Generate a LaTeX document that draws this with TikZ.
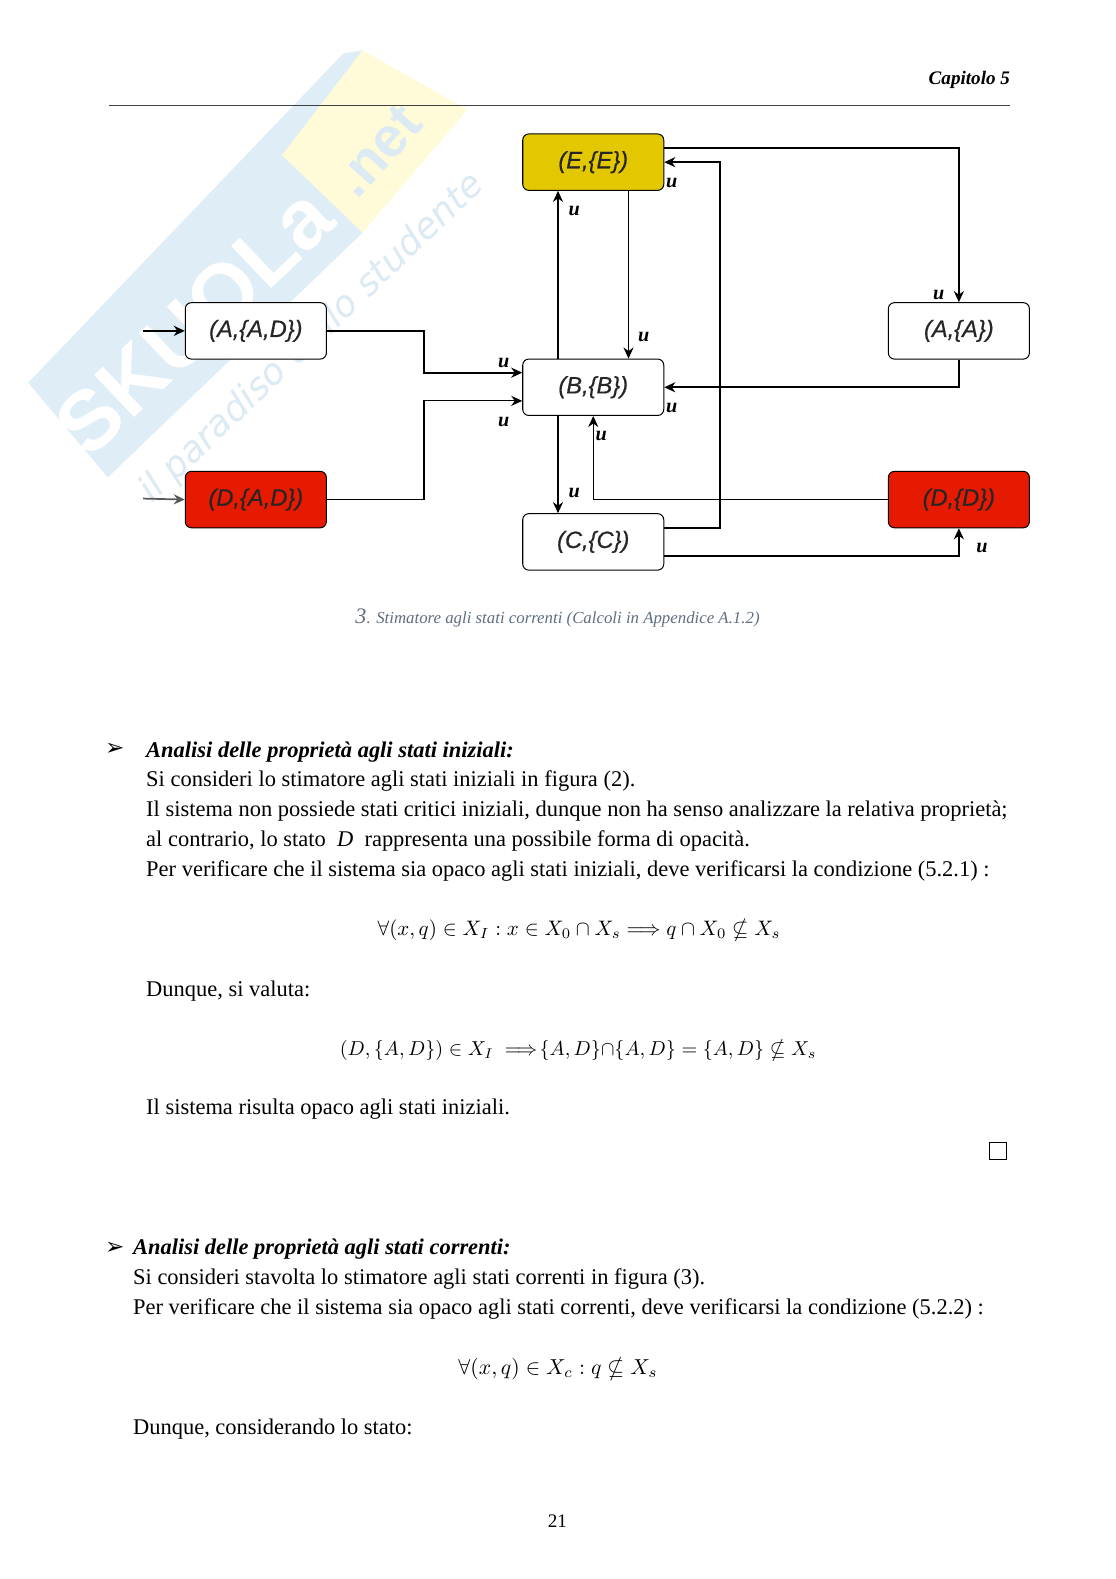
\documentclass[tikz,border=0pt]{standalone}
\usepackage{amsmath,amssymb}
\usepackage[no-math]{fontspec}
\setmainfont{Liberation Serif}
\newfontfamily\boxfont[ItalicFeatures={FakeBold=0.5}]{Liberation Sans}
\newfontfamily\wmfont{Liberation Sans}
\newfontfamily\markfont{DejaVu Sans}
\usetikzlibrary{arrows.meta,calc}
\definecolor{wmblue}{HTML}{DFEDF6}
\definecolor{wmyellow}{HTML}{FFFBD9}
\definecolor{wmtext}{HTML}{DCEAF4}
\definecolor{stateyellow}{HTML}{E3C800}
\definecolor{statered}{HTML}{E61A00}
\definecolor{capgray}{HTML}{5F6F80}
\newcommand{\stlab}[1]{\raisebox{-2.5pt}{#1}}
\tikzset{
  x=1pt,y=-1pt,
  statebox/.style={draw=black,line width=1pt,rounded corners=6pt,minimum width=140pt,minimum height=56pt,inner sep=0pt,font=\boxfont\itshape\fontsize{23.5}{26}\selectfont,text=black!85},
  thickc/.style={line width=1.7pt,-{Stealth[length=11pt,width=10pt]}},
  thinc/.style={line width=1.1pt,-{Stealth[length=11pt,width=10pt]}},
  edgelab/.style={inner sep=0pt,font=\bfseries\itshape\fontsize{20}{22}\selectfont},
  body/.style={anchor=base west,inner sep=0pt,font=\fontsize{22.3}{30}\selectfont,text=black},
  bodyhead/.style={body,font=\bfseries\itshape\fontsize{22.3}{30}\selectfont},
  formula/.style={inner sep=0pt},
  bulletmark/.style={inner sep=0pt,font=\markfont\fontsize{23}{26}\selectfont},
}
\begin{document}
\begin{tikzpicture}
\useasboundingbox (0,0) rectangle (1108,1567.7);
\fill[white] (0,0) rectangle (1108,1567.7);
% watermark
\fill[wmblue] (341,53) -- (360,50) -- (360,231) -- (107,474) -- (28,380) -- cycle;
\fill[wmyellow] (360,50) -- (464,109) -- (360,231) -- (280,154) -- cycle;
\node[rotate=43.5,inner sep=0pt,text=white,font=\wmfont\bfseries\fontsize{84}{90}\selectfont] (wmskuola) at (193,319) {SKUOLa};
\node[rotate=48,inner sep=0pt,text=wmtext,font=\wmfont\bfseries\fontsize{56}{60}\selectfont] (wmnet) at (375,150) {.net};
\node[rotate=43.5,inner sep=0pt,text=wmtext,font=\markfont\itshape\fontsize{36}{40}\selectfont] (wmtag) at (310,336) {il paradiso dello studente};
% header
\node[anchor=base east,inner sep=0pt,font=\bfseries\itshape\fontsize{19}{22}\selectfont] (hdr) at (1003,84) {Capitolo 5};
\coordinate (ruleL) at (108,105);
\coordinate (ruleR) at (1003,105);
\draw[line width=1.3pt,black!75] (ruleL) -- (ruleR);
% states
\node[statebox,fill=stateyellow] (E) at (589,161) {\stlab{(E,\{E\})}};
\node[statebox,fill=white] (AAD) at (254,328.5) {\stlab{(A,\{A,D\})}};
\node[statebox,fill=white] (B) at (589,384.5) {\stlab{(B,\{B\})}};
\node[statebox,fill=white] (AA) at (952,328.5) {\stlab{(A,\{A\})}};
\node[statebox,fill=statered] (DAD) at (254,496) {\stlab{(D,\{A,D\})}};
\node[statebox,fill=statered] (DD) at (952,496) {\stlab{(D,\{D\})}};
\node[statebox,fill=white] (C) at (589,538) {\stlab{(C,\{C\})}};
\coordinate (s1) at (142,328.5);
\coordinate (s2) at (142,495);
% connectors
\draw[thickc] (s1) -- (AAD.west);
\draw[thickc,black!65] (s2) -- (DAD.west);
\draw[thickc] (AAD.east) -- (421,328.5) -- (421,370) -- ([yshift=14.5pt]B.west);
\draw[thinc] (DAD.east) -- (421,496) -- (421,398) -- ([yshift=-13.5pt]B.west);
\draw[thinc] ([xshift=-35pt]B.north) -- ([xshift=-35pt]E.south);
\draw[thinc] ([xshift=35pt]E.south) -- ([xshift=35pt]B.north);
\draw[thinc] ([xshift=-35pt]B.south) -- ([xshift=-35pt]C.north);
\draw[thinc] (DD.west) -- (589,496) -- (B.south);
\draw[thickc] ([yshift=14pt]E.east) -- (952,147) -- (AA.north);
\draw[thickc] (AA.south) -- (952,384.5) -- (B.east);
\draw[thickc] ([yshift=14pt]C.east) -- (715,524) -- (715,161) -- (E.east);
\draw[thickc] ([yshift=-14pt]C.east) -- (952,552) -- (DD.south);
% edge labels
\node[edgelab] (u1) at (570,209) {u};
\node[edgelab] (u2) at (639,335) {u};
\node[edgelab] (u3) at (667,182) {u};
\node[edgelab] (u4) at (932,293) {u};
\node[edgelab] (u5) at (500,360) {u};
\node[edgelab] (u6) at (500,419) {u};
\node[edgelab] (u7) at (667,405) {u};
\node[edgelab] (u8) at (597,433) {u};
\node[edgelab] (u9) at (570,489) {u};
\node[edgelab] (u10) at (975,544) {u};
% caption
\node[anchor=base,inner sep=0pt,text=capgray,font=\itshape\fontsize{16.7}{20}\selectfont] (cap) at (553.5,619) {{\fontsize{22}{20}\selectfont 3}. Stimatore agli stati correnti (Calcoli in Appendice A.1.2)};
% body
\node[bulletmark] (b1) at (114,744) {➢};
\node[bodyhead] (t1) at (145,752) {Analisi delle proprietà agli stati iniziali:};
\node[body] (t2) at (145,780.5) {Si consideri lo stimatore agli stati iniziali in figura (2).};
\node[body] (t3) at (145,810.5) {Il sistema non possiede stati critici iniziali, dunque non ha senso analizzare la relativa proprietà;};
\node[body] (t4) at (145,840) {al contrario, lo stato \ \textit{D}\ \ rappresenta una possibile forma di opacità.};
\node[body] (t5) at (145,870) {Per verificare che il sistema sia opaco agli stati iniziali, deve verificarsi la condizione (5.2.1) :};
\node[formula,scale=2.08] (f1) at (575,924) {$\forall(x,q)\in X_I : x\in X_0\cap X_s \Longrightarrow q\cap X_0 \nsubseteq X_s$};
\node[body] (t6) at (145,989) {Dunque, si valuta:};
\node[formula,scale=2.0] (f2) at (574,1043) {$(D,\{A,D\})\in X_I\;\Longrightarrow\!\{A,D\}{\cap}\{A,D\}=\{A,D\}\nsubseteq X_s$};
\node[body] (t7) at (145,1107) {Il sistema risulta opaco agli stati iniziali.};
\node[draw=black,line width=1.2pt,minimum size=17pt,inner sep=0pt] (qed) at (991,1143) {};
\node[bulletmark] (b2) at (114,1239) {➢};
\node[bodyhead] (t8) at (132,1246) {Analisi delle proprietà agli stati correnti:};
\node[body] (t9) at (132,1275) {Si consideri stavolta lo stimatore agli stati correnti in figura (3).};
\node[body] (t10) at (132,1305) {Per verificare che il sistema sia opaco agli stati correnti, deve verificarsi la condizione (5.2.2) :};
\node[formula,scale=2.15] (f3) at (554,1359) {$\forall(x,q)\in X_c : q\nsubseteq X_s$};
\node[body] (t11) at (132,1424) {Dunque, considerando lo stato:};
\node[body,anchor=base] (pg) at (553.5,1517) {\fontsize{19}{22}\selectfont 21};
\end{tikzpicture}
\end{document}
